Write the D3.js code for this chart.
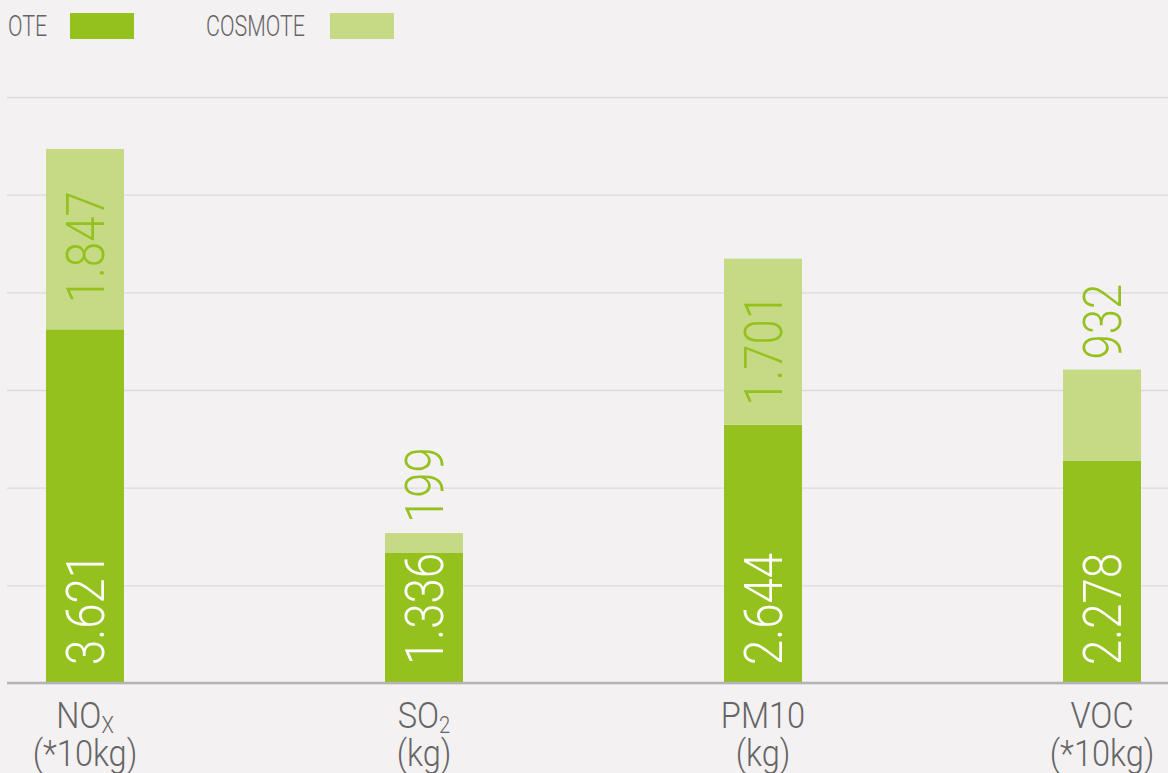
<!DOCTYPE html>
<html>
<head>
<meta charset="utf-8">
<script src="https://cdn.jsdelivr.net/npm/d3@7"></script>
<style>
  html, body { margin: 0; padding: 0; background: #f3f1f2; }
  svg { display: block; }
  text { font-family: Roboto, "Open Sans", sans-serif; font-weight: 300; }
</style>
</head>
<body>
<svg id="chart" width="1168" height="773"></svg>
<script>
// Emissions by pollutant, split between the two companies
const categories = ["NOx", "SO2", "PM10", "VOC"];
const unitLabels = ["(*10kg)", "(kg)", "(kg)", "(*10kg)"];
const series = ["OTE", "COSMOTE"];
const oteValues = [3621, 1336, 2644, 2278];
const cosmoteValues = [1847, 199, 1701, 932];
const yTicks = [0, 1000, 2000, 3000, 4000, 5000, 6000];

const colors = { OTE: "#95c11f", COSMOTE: "#c6da86" };
const valueCondense = 0.86;
const axisCondense = 0.88;
const legendCondense = 0.74;

const svg = d3.select("#chart");
const W = 1168, H = 773;
svg.append("rect").attr("width", W).attr("height", H).attr("fill", "#f3f1f2");

const rows = categories.map((c, i) => ({ cat: c, OTE: oteValues[i], COSMOTE: cosmoteValues[i] }));
const stacked = d3.stack().keys(series)(rows);

const x = d3.scaleBand().domain(categories).range([46, 1141]).paddingInner(0.77).paddingOuter(0);
const y = d3.scaleLinear().domain([0, 6000]).range([683, 97]);

// horizontal grid
svg.append("g")
  .attr("transform", "translate(7,0)")
  .call(d3.axisLeft(y).tickValues(yTicks).tickSize(-1161).tickFormat(""))
  .call(g => g.select(".domain").remove())
  .call(g => g.selectAll(".tick line").attr("stroke", "#dcdadb").attr("stroke-width", 1.3));

// stacked bars
svg.append("g").selectAll("g").data(stacked).join("g")
  .attr("fill", d => colors[d.key])
  .selectAll("rect").data(d => d).join("rect")
  .attr("x", d => x(d.data.cat))
  .attr("width", x.bandwidth())
  .attr("y", d => y(d[1]))
  .attr("height", d => y(d[0]) - y(d[1]));

// baseline
svg.append("g")
  .attr("transform", `translate(0,${y(0)})`)
  .call(d3.axisBottom(x).tickSize(0).tickFormat(""))
  .call(g => g.select(".domain")
    .attr("d", `M7,0H${W}`)
    .attr("stroke", "#b4b2b3").attr("stroke-width", 2.5));

const fmt = v => d3.format(",")(v).replace(/,/g, ".");
const labelSize = 53;
const labelLen = s => s.length * labelSize * 0.56 * valueCondense * 0.88;

function vLabel(cx, yStart, txt, fill) {
  svg.append("text")
    .attr("transform", `translate(${cx + 19},${yStart}) rotate(-90) scale(${valueCondense},1)`)
    .attr("font-size", labelSize)
    .attr("fill", fill)
    .text(txt);
}

// value labels
rows.forEach((r, i) => {
  const cx = x(r.cat) + x.bandwidth() / 2;
  vLabel(cx, y(0) - 18, fmt(r.OTE), "#ffffff");
  const s = stacked[1][i];
  const top = y(s[1]), bot = y(s[0]);
  const txt = fmt(r.COSMOTE);
  const len = labelLen(txt);
  if (bot - top > len + 40) {
    vLabel(cx, (top + bot) / 2 + len / 2 + 8, txt, colors.OTE);
  } else {
    vLabel(cx, top - 10, txt, colors.OTE);
  }
});

// category labels
const catG = svg.append("g").selectAll("g").data(categories).join("g")
  .attr("transform", d => `translate(${x(d) + x.bandwidth() / 2},0) scale(${axisCondense},1)`);
const catText = catG.append("text")
  .attr("text-anchor", "middle")
  .attr("font-size", 37)
  .attr("fill", "#666465");
catText.append("tspan").attr("x", 0).attr("y", 728)
  .each(function (d) {
    const t = d3.select(this);
    const sub = d === "NOx" ? "X" : d === "SO2" ? "2" : null;
    if (sub) {
      t.append("tspan").text(d.slice(0, 2));
      t.append("tspan").attr("font-size", 23).attr("dy", 5).text(sub);
    } else {
      t.text(d);
    }
  });
catText.append("tspan").attr("x", 0).attr("y", 766).text((d, i) => unitLabels[i]);

// legend
const legend = svg.append("g");
const legendItems = [{ key: "OTE", tx: 8, sx: 70 }, { key: "COSMOTE", tx: 206, sx: 330 }];
legendItems.forEach(it => {
  legend.append("text")
    .attr("transform", `translate(${it.tx},36) scale(${legendCondense},1)`)
    .attr("font-size", 29)
    .attr("fill", "#666465")
    .text(it.key);
  legend.append("rect")
    .attr("x", it.sx).attr("y", 13).attr("width", 64).attr("height", 26)
    .attr("fill", colors[it.key]);
});
</script>
</body>
</html>
